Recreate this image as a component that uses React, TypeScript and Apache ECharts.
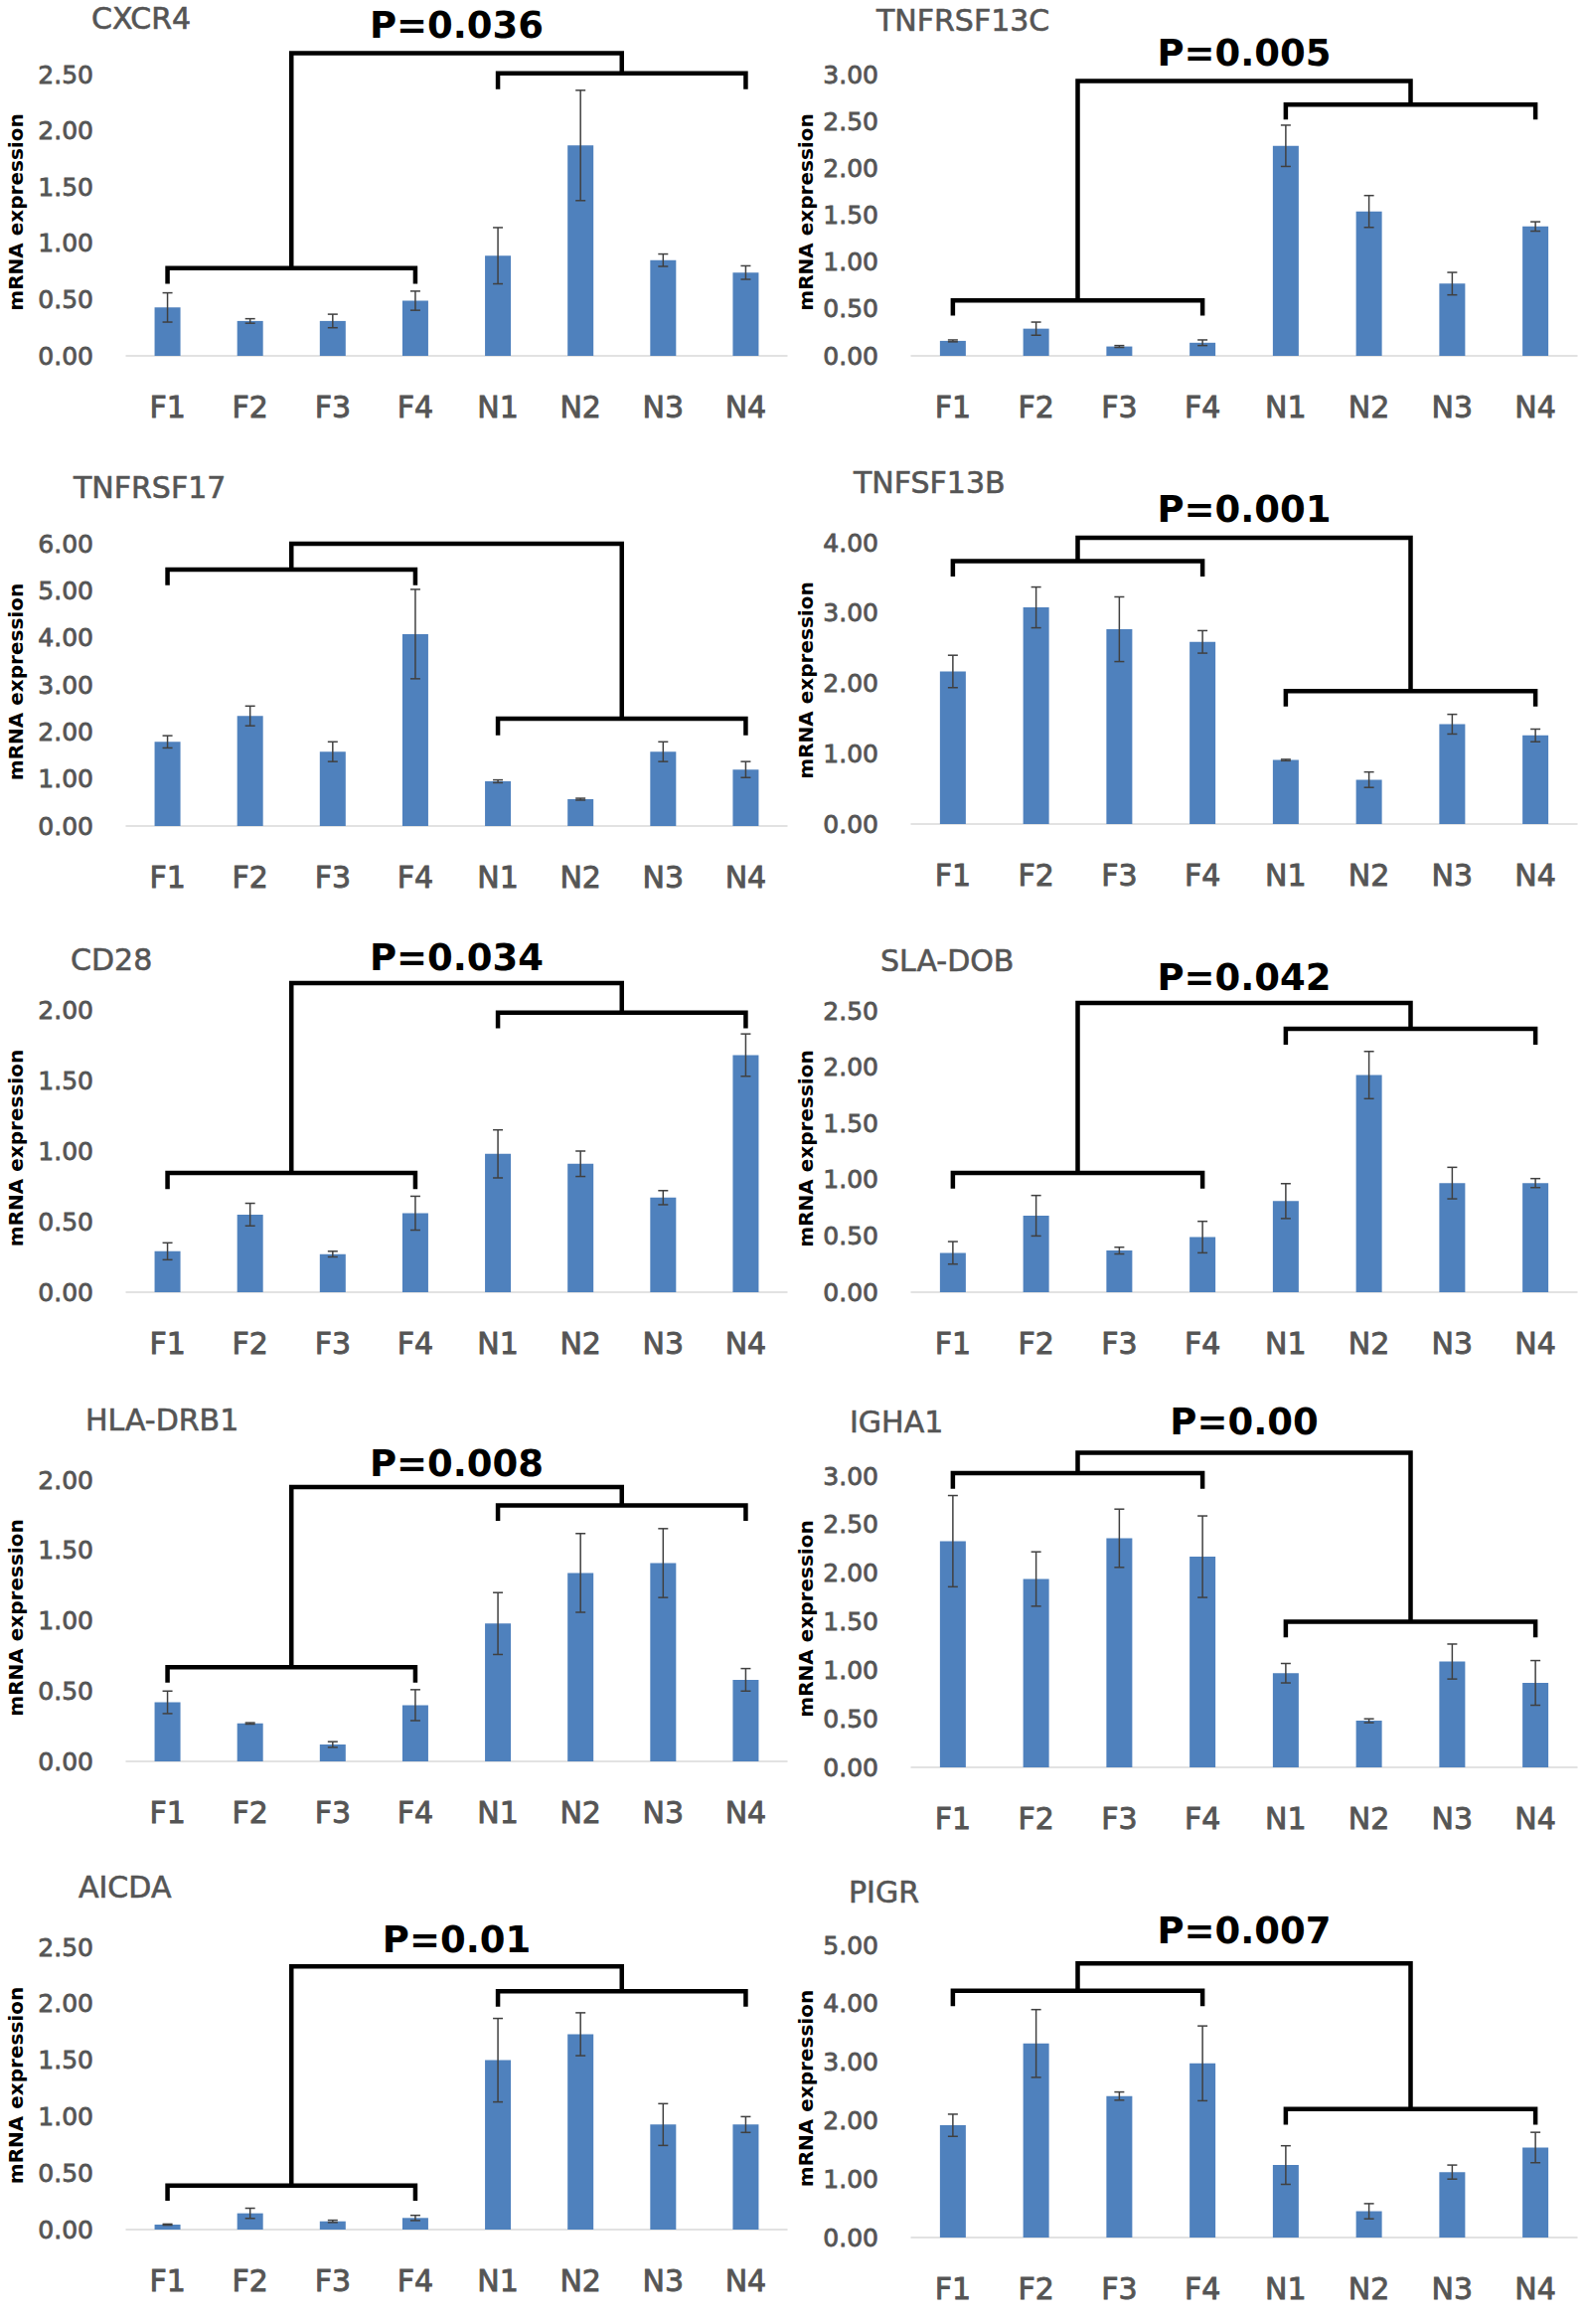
import React, { useEffect, useRef } from "react";
import * as echarts from "echarts";

const CATEGORIES = ["F1", "F2", "F3", "F4", "N1", "N2", "N3", "N4"];
const GENES = ["CXCR4", "TNFRSF13C", "TNFRSF17", "TNFSF13B", "CD28", "SLA-DOB", "HLA-DRB1", "IGHA1", "AICDA", "PIGR"];

const CXCR4_MEAN = [0.43, 0.31, 0.31, 0.49, 0.89, 1.87, 0.85, 0.74];
const CXCR4_ERR = [0.13, 0.02, 0.06, 0.085, 0.25, 0.49, 0.055, 0.06];
const TNFRSF13C_MEAN = [0.16, 0.29, 0.1, 0.14, 2.24, 1.54, 0.77, 1.38];
const TNFRSF13C_ERR = [0.01, 0.07, 0.01, 0.03, 0.22, 0.17, 0.12, 0.05];
const TNFRSF17_MEAN = [1.79, 2.34, 1.58, 4.08, 0.95, 0.57, 1.58, 1.2];
const TNFRSF17_ERR = [0.13, 0.21, 0.21, 0.95, 0.03, 0.02, 0.21, 0.17];
const TNFSF13B_MEAN = [2.17, 3.08, 2.77, 2.59, 0.91, 0.63, 1.42, 1.26];
const TNFSF13B_ERR = [0.23, 0.29, 0.46, 0.16, 0.01, 0.11, 0.14, 0.09];
const CD28_MEAN = [0.29, 0.55, 0.27, 0.56, 0.98, 0.91, 0.67, 1.68];
const CD28_ERR = [0.06, 0.08, 0.02, 0.12, 0.17, 0.09, 0.05, 0.15];
const SLADOB_MEAN = [0.35, 0.68, 0.37, 0.49, 0.81, 1.93, 0.97, 0.97];
const SLADOB_ERR = [0.1, 0.18, 0.03, 0.14, 0.155, 0.21, 0.14, 0.04];
const HLADRB1_MEAN = [0.42, 0.27, 0.12, 0.4, 0.98, 1.34, 1.41, 0.58];
const HLADRB1_ERR = [0.08, 0.005, 0.02, 0.11, 0.22, 0.28, 0.245, 0.08];
const IGHA1_MEAN = [2.33, 1.94, 2.36, 2.17, 0.97, 0.48, 1.09, 0.87];
const IGHA1_ERR = [0.47, 0.28, 0.3, 0.42, 0.1, 0.02, 0.18, 0.23];
const AICDA_MEAN = [0.044, 0.144, 0.073, 0.103, 1.5, 1.73, 0.93, 0.93];
const AICDA_ERR = [0.005, 0.045, 0.01, 0.023, 0.37, 0.19, 0.185, 0.07];
const PIGR_MEAN = [1.92, 3.32, 2.42, 2.98, 1.24, 0.45, 1.12, 1.54];
const PIGR_ERR = [0.19, 0.58, 0.07, 0.64, 0.33, 0.13, 0.12, 0.26];

const MEANS = [CXCR4_MEAN, TNFRSF13C_MEAN, TNFRSF17_MEAN, TNFSF13B_MEAN, CD28_MEAN, SLADOB_MEAN, HLADRB1_MEAN, IGHA1_MEAN, AICDA_MEAN, PIGR_MEAN];
const ERRS = [CXCR4_ERR, TNFRSF13C_ERR, TNFRSF17_ERR, TNFSF13B_ERR, CD28_ERR, SLADOB_ERR, HLADRB1_ERR, IGHA1_ERR, AICDA_ERR, PIGR_ERR];

// y-axis maximum and tick step per panel
const Y_MAX = [2.5, 3, 6, 4, 2, 2.5, 2, 3, 2.5, 5];
const Y_STEP = [0.5, 0.5, 1, 1, 0.5, 0.5, 0.5, 0.5, 0.5, 1];

// P-value labels (null where none)
const P_LABELS = ["P=0.036", "P=0.005", null, "P=0.001", "P=0.034", "P=0.042", "P=0.008", "P=0.00", "P=0.01", "P=0.007"];

// bracket levels in data units: [top, F level, F tick end, N level, N tick end, P label level]
const BRACKETS = [
  [2.69, 0.78, 0.64, 2.51, 2.37, 2.94],
  [2.93, 0.59, 0.43, 2.68, 2.52, 3.23],
  [6.0, 5.45, 5.12, 2.28, 1.93, 0],
  [4.07, 3.74, 3.52, 1.89, 1.67, 4.48],
  [2.19, 0.845, 0.73, 1.98, 1.87, 2.37],
  [2.57, 1.06, 0.92, 2.34, 2.2, 2.8],
  [1.95, 0.67, 0.56, 1.82, 1.71, 2.12],
  [3.24, 3.03, 2.87, 1.5, 1.34, 3.56],
  [2.33, 0.39, 0.255, 2.11, 1.975, 2.57],
  [4.69, 4.22, 3.96, 2.2, 1.93, 5.24],
];

// layout (pixels)
const GRID_LEFT = [127, 917];
const GRID_WIDTH = [665, 670];
const GRID_TOP = [75, 75, 547, 546, 1016, 1017, 1489, 1485, 1959, 1957];
const GRID_BOTTOM = [358, 358, 831, 829, 1300, 1300, 1772, 1778, 2243, 2251];
const TITLE_LEFT = [92, 882, 74, 859, 71, 886, 86, 855, 79, 854];
const TITLE_CY = [20, 22, 492, 487, 967, 968, 1430, 1432, 1900, 1905];
const YNAME_X = [16, 811];

const BAR_COLOR = "#4f81bd";
const TEXT_GRAY = "#555555";
const FONT = "DejaVu Sans";

function buildOption() {
  const grid: any[] = [];
  const xAxis: any[] = [];
  const yAxis: any[] = [];
  const series: any[] = [];
  const title: any[] = [];
  const graphic: any[] = [];

  GENES.forEach((gene, i) => {
    const col = i % 2;
    grid.push({
      left: GRID_LEFT[col],
      width: GRID_WIDTH[col],
      top: GRID_TOP[i],
      height: GRID_BOTTOM[i] - GRID_TOP[i],
      containLabel: false,
    });
    xAxis.push({
      type: "category",
      gridIndex: i,
      data: CATEGORIES,
      axisLine: { lineStyle: { color: "#d9d9d9", width: 1.5 } },
      axisTick: { show: false },
      axisLabel: {
        fontFamily: FONT,
        fontSize: 30,
        color: TEXT_GRAY,
        margin: 36,
        textBorderColor: TEXT_GRAY,
        textBorderWidth: 0.9,
      },
      splitLine: { show: false },
    });
    yAxis.push({
      type: "value",
      gridIndex: i,
      min: 0,
      max: Y_MAX[i],
      interval: Y_STEP[i],
      axisLine: { show: false },
      axisTick: { show: false },
      splitLine: { show: false },
      axisLabel: {
        fontFamily: FONT,
        fontSize: 25,
        color: TEXT_GRAY,
        margin: 33,
        textBorderColor: TEXT_GRAY,
        textBorderWidth: 0.8,
        formatter: (v: number) => v.toFixed(2),
      },
    });
    title.push({
      text: gene,
      left: TITLE_LEFT[i],
      top: TITLE_CY[i] - 17,
      padding: 0,
      textStyle: {
        fontFamily: FONT,
        fontSize: 30,
        fontWeight: "normal",
        color: TEXT_GRAY,
        textBorderColor: TEXT_GRAY,
        textBorderWidth: 0.6,
      },
    });
    graphic.push({
      type: "text",
      x: YNAME_X[col],
      y: (GRID_TOP[i] + GRID_BOTTOM[i]) / 2 - 3,
      rotation: Math.PI / 2,
      style: {
        text: "mRNA expression",
        font: `bold 20px "${FONT}"`,
        fill: "#000",
        align: "center",
        verticalAlign: "middle",
      },
    });

    series.push({
      type: "bar",
      name: gene,
      xAxisIndex: i,
      yAxisIndex: i,
      data: MEANS[i],
      barWidth: 26,
      itemStyle: { color: BAR_COLOR },
    });

    series.push({
      type: "custom",
      name: gene + " error",
      xAxisIndex: i,
      yAxisIndex: i,
      z: 5,
      data: MEANS[i].map((m, k) => [k, m, ERRS[i][k]]),
      encode: { x: 0, y: 1 },
      renderItem: (params: any, api: any) => {
        const k = api.value(0);
        const m = api.value(1);
        const e = api.value(2);
        const t = api.coord([k, m + e]);
        const b = api.coord([k, m - e]);
        const hw = 5;
        const st = { stroke: "#404040", lineWidth: 1.5 };
        return {
          type: "group",
          children: [
            { type: "line", shape: { x1: t[0], y1: t[1], x2: b[0], y2: b[1] }, style: st },
            { type: "line", shape: { x1: t[0] - hw, y1: t[1], x2: t[0] + hw, y2: t[1] }, style: st },
            { type: "line", shape: { x1: b[0] - hw, y1: b[1], x2: b[0] + hw, y2: b[1] }, style: st },
          ],
        };
      },
    });

    const br = BRACKETS[i];
    const pLabel = P_LABELS[i];
    series.push({
      type: "custom",
      name: gene + " bracket",
      xAxisIndex: i,
      yAxisIndex: i,
      z: 6,
      clip: false,
      data: [[0, ...br]],
      encode: { x: 0, y: 1 },
      renderItem: (params: any, api: any) => {
        const topV = api.value(1);
        const fH = api.value(2);
        const fT = api.value(3);
        const nH = api.value(4);
        const nT = api.value(5);
        const pY = api.value(6);
        const c = (k: number, v: number) => api.coord([k, v]);
        const f1 = c(0, fH);
        const f4 = c(3, fH);
        const n1 = c(4, nH);
        const n4 = c(7, nH);
        const yfT = c(0, fT)[1];
        const ynT = c(4, nT)[1];
        const yTop = c(0, topV)[1];
        const fMid = (f1[0] + f4[0]) / 2;
        const nMid = (n1[0] + n4[0]) / 2;
        const st = { stroke: "#000", lineWidth: 4.5, fill: null, lineJoin: "miter", lineCap: "butt" };
        const children: any[] = [
          { type: "polyline", shape: { points: [[f1[0], yfT], [f1[0], f1[1]], [f4[0], f4[1]], [f4[0], yfT]] }, style: st },
          { type: "polyline", shape: { points: [[n1[0], ynT], [n1[0], n1[1]], [n4[0], n4[1]], [n4[0], ynT]] }, style: st },
          { type: "polyline", shape: { points: [[fMid, f1[1]], [fMid, yTop], [nMid, yTop], [nMid, n1[1]]] }, style: st },
        ];
        if (pLabel) {
          children.push({
            type: "text",
            x: (fMid + nMid) / 2,
            y: c(0, pY)[1],
            style: {
              text: pLabel,
              font: `bold 37px "${FONT}"`,
              fill: "#000",
              align: "center",
              verticalAlign: "middle",
            },
          });
        }
        return { type: "group", children };
      },
    });
  });

  return {
    animation: false,
    backgroundColor: "#ffffff",
    title,
    grid,
    xAxis,
    yAxis,
    series,
    graphic,
  };
}

export default function App() {
  const ref = useRef<HTMLDivElement>(null);
  useEffect(() => {
    document.body.style.margin = "0";
    if (!ref.current) return;
    const chart = echarts.init(ref.current, null, { renderer: "svg" });
    chart.setOption(buildOption() as any);
    return () => chart.dispose();
  }, []);
  return <div ref={ref} style={{ width: 1595, height: 2338, background: "#fff" }} />;
}
